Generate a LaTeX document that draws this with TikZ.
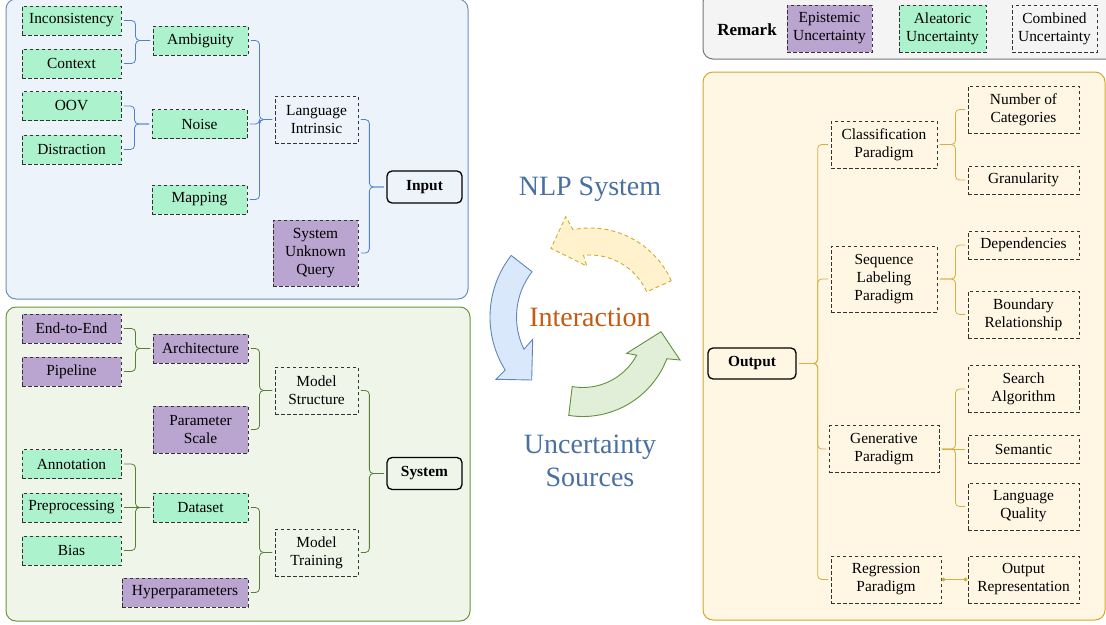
\documentclass[tikz,border=0pt]{standalone}
\usepackage{fontspec}
\setmainfont{Liberation Serif}
\usetikzlibrary{calc,arrows.meta}

\definecolor{epifill}{RGB}{186,164,208}
\definecolor{aleafill}{RGB}{172,242,204}
\definecolor{boxline}{RGB}{51,51,51}
\definecolor{infill}{RGB}{237,243,250}
\definecolor{inborder}{RGB}{108,142,191}
\definecolor{inline}{RGB}{82,128,214}
\definecolor{sysfill}{RGB}{239,245,233}
\definecolor{sysborder}{RGB}{104,150,62}
\definecolor{sysline}{RGB}{88,128,52}
\definecolor{outfill}{RGB}{255,246,228}
\definecolor{outborder}{RGB}{214,166,36}
\definecolor{outline}{RGB}{214,176,66}
\definecolor{remfill}{RGB}{244,244,244}
\definecolor{remborder}{RGB}{120,120,120}
\definecolor{titleblue}{RGB}{72,112,160}
\definecolor{interorange}{RGB}{197,90,17}
\definecolor{arrblue}{RGB}{218,232,252}
\definecolor{arrblueline}{RGB}{98,134,184}
\definecolor{arryellow}{RGB}{255,242,204}
\definecolor{arryellowline}{RGB}{210,170,50}
\definecolor{arrgreen}{RGB}{226,239,216}
\definecolor{arrgreenline}{RGB}{98,145,60}

\begin{document}
\begin{tikzpicture}
	[x=1pt, y=-1pt,
	every node/.style={font=\fontsize{15.4}{18}\selectfont},
	box/.style={draw=boxline, line width=0.9pt, dash pattern=on 3.5pt off 2.5pt, align=center, inner sep=0pt, minimum width=99pt, minimum height=29pt},
	epi/.style={box, fill=epifill},
	alea/.style={box, fill=aleafill},
	comb/.style={box},
	root/.style={draw=black, line width=1.3pt, rounded corners=5pt, minimum width=75pt, minimum height=32pt, font=\fontsize{15.4}{18}\selectfont\bfseries},
	panel/.style={rounded corners=10pt, line width=1pt},
	inedge/.style={draw=inline, line width=0.8pt, rounded corners=4pt, shorten <=2.5pt, shorten >=2.5pt},
	sysedge/.style={inedge, draw=sysline},
	outedge/.style={inedge, draw=outline},
	big/.style={font=\fontsize{28}{33}\selectfont, align=center}]
	\useasboundingbox (0,0) rectangle (1106,624);
	\clip (0,0) rectangle (1106,624);

	\draw[panel, draw=inborder, fill=infill] (6,-1) rectangle (468,299);
	\draw[panel, draw=sysborder, fill=sysfill] (6,307) rectangle (470,621);
	\draw[panel, draw=outborder, fill=outfill] (703,72) rectangle (1105,620);
	\draw[panel, draw=remborder, fill=remfill] (703,-8) rectangle (1120,59);

	\node[alea] (incons) at (71.5,20.5) {Inconsistency};
	\node[alea] (context) at (71.5,63.5) {Context};
	\node[alea, minimum width=95pt] (amb) at (200.5,40.5) {Ambiguity};
	\node[alea] (oov) at (71.5,106) {OOV};
	\node[alea] (distr) at (71.5,149.5) {Distraction};
	\node[alea, minimum width=95pt] (noise) at (199.5,124) {Noise};
	\node[alea, minimum width=95pt] (mapping) at (199.5,199.5) {Mapping};
	\node[comb, minimum width=83pt, minimum height=47pt] (lang) at (316.5,119.5) {Language\\Intrinsic};
	\node[epi, minimum width=85pt, minimum height=66pt] (sysq) at (315.5,253) {System\\Unknown\\Query};
	\node[root] (input) at (424.5,187) {Input};

	\draw[inedge] (amb.west) -- ++(-17,0) |- (incons.east);
	\draw[inedge] (amb.west) -- ++(-17,0) |- (context.east);
	\draw[inedge] (noise.west) -- ++(-17,0) |- (oov.east);
	\draw[inedge] (noise.west) -- ++(-17,0) |- (distr.east);
	\draw[inedge] (lang.west) -- ++(-15,0) |- (amb.east);
	\draw[inedge] (lang.west) -- ++(-15,0) |- (noise.east);
	\draw[inedge] (lang.west) -- ++(-15,0) |- (mapping.east);
	\draw[inedge] (input.west) -- ++(-17,0) |- (lang.east);
	\draw[inedge] (input.west) -- ++(-17,0) |- (sysq.east);

	\node[epi] (e2e) at (71.5,328.5) {End-to-End};
	\node[epi] (pipe) at (71.5,371.5) {Pipeline};
	\node[epi, minimum width=95pt] (arch) at (200.5,348.5) {Architecture};
	\node[epi, minimum width=95pt, minimum height=47pt] (param) at (200.5,429.5) {Parameter\\Scale};
	\node[comb, minimum width=83pt, minimum height=47pt] (mstruct) at (316.5,390.5) {Model\\Structure};
	\node[alea] (annot) at (71.5,464) {Annotation};
	\node[alea] (prep) at (71.5,507.5) {Preprocessing};
	\node[alea] (bias) at (71.5,550.5) {Bias};
	\node[alea, minimum width=95pt] (data) at (200.5,507.5) {Dataset};
	\node[epi, minimum width=126pt] (hyper) at (185,592.5) {Hyperparameters};
	\node[comb, minimum width=83pt, minimum height=47pt] (mtrain) at (316.5,552.5) {Model\\Training};
	\node[root] (system) at (424.5,473.5) {System};

	\draw[sysedge] (arch.west) -- ++(-17,0) |- (e2e.east);
	\draw[sysedge] (arch.west) -- ++(-17,0) |- (pipe.east);
	\draw[sysedge] (mstruct.west) -- ++(-15,0) |- (arch.east);
	\draw[sysedge] (mstruct.west) -- ++(-15,0) |- (param.east);
	\draw[sysedge] (data.west) -- ++(-17,0) |- (annot.east);
	\draw[sysedge] (data.west) -- (prep.east);
	\draw[sysedge] (data.west) -- ++(-17,0) |- (bias.east);
	\draw[sysedge] (mtrain.west) -- ++(-15,0) |- (data.east);
	\draw[sysedge] (mtrain.west) -- ++(-15,0) |- (hyper.east);
	\draw[sysedge] (system.west) -- ++(-17,0) |- (mstruct.east);
	\draw[sysedge] (system.west) -- ++(-17,0) |- (mtrain.east);

	\node[font=\fontsize{17}{20}\selectfont\bfseries] (remark) at (747,30) {Remark};
	\node[epi, minimum width=85pt, minimum height=47pt] (epilg) at (829.5,28.5) {Epistemic\\Uncertainty};
	\node[alea, minimum width=87pt, minimum height=47pt] (alealg) at (942.5,28.5) {Aleatoric\\Uncertainty};
	\node[comb, minimum width=85pt, minimum height=47pt] (comblg) at (1054.5,28.5) {Combined\\Uncertainty};

	\node[root, minimum width=88pt, minimum height=31pt] (output) at (752,363.5) {Output};
	\node[comb, minimum width=106pt, minimum height=47pt] (cls) at (884,144.5) {Classification\\Paradigm};
	\node[comb, minimum width=106pt, minimum height=66pt] (seq) at (884,279) {Sequence\\Labeling\\Paradigm};
	\node[comb, minimum width=110pt, minimum height=47pt] (gen) at (884,449) {Generative\\Paradigm};
	\node[comb, minimum width=110pt, minimum height=47pt] (reg) at (886,579.5) {Regression\\Paradigm};
	\node[comb, minimum width=111pt, minimum height=47pt] (numcat) at (1023.5,109.5) {Number of\\Categories};
	\node[comb, minimum width=111pt, minimum height=28pt] (gran) at (1023.5,180) {Granularity};
	\node[comb, minimum width=111pt, minimum height=28pt] (dep) at (1023.5,245) {Dependencies};
	\node[comb, minimum width=111pt, minimum height=47pt] (bound) at (1023.5,314.5) {Boundary\\Relationship};
	\node[comb, minimum width=111pt, minimum height=47pt] (search) at (1023.5,389) {Search\\Algorithm};
	\node[comb, minimum width=111pt, minimum height=28pt] (sem) at (1023.5,449) {Semantic};
	\node[comb, minimum width=111pt, minimum height=47pt] (langq) at (1023.5,506.5) {Language\\Quality};
	\node[comb, minimum width=111pt, minimum height=47pt] (outrep) at (1023.5,579.5) {Output\\Representation};

	\draw[outedge] (output.east) -- ++(21,0) |- (cls.west);
	\draw[outedge] (output.east) -- ++(21,0) |- (seq.west);
	\draw[outedge] (output.east) -- ++(21,0) |- (gen.west);
	\draw[outedge] (output.east) -- ++(21,0) |- (reg.west);
	\draw[outedge] (cls.east) -- ++(18,0) |- (numcat.west);
	\draw[outedge] (cls.east) -- ++(18,0) |- (gran.west);
	\draw[outedge] (seq.east) -- ++(18,0) |- (dep.west);
	\draw[outedge] (seq.east) -- ++(18,0) |- (bound.west);
	\draw[outedge] (gen.east) -- ++(16,0) |- (search.west);
	\draw[outedge] (gen.east) -- (sem.west);
	\draw[outedge] (gen.east) -- ++(16,0) |- (langq.west);
	\draw[draw=outline, line width=0.8pt, {Circle[length=4pt, fill=outborder]}-{Circle[length=4pt, fill=outborder]}] (reg.east) -- (outrep.west);

	\coordinate (cb) at (590,317);
	\coordinate (cg) at (582.8,326.5);
	\draw[draw=arrblueline, fill=arrblue, line width=0.9pt] (cb) ++(218:100) arc[start angle=218, end angle=148, radius=100]
		-- (496,379.3) -- (531.7,380) -- (532.7,339.3) -- ($(cb)+(154:73.5)$) arc[start angle=154, end angle=218, radius=73.5] -- cycle;
	\draw[draw=arryellowline, fill=arryellow, line width=0.9pt, dash pattern=on 4pt off 3pt] (cb) ++(336:89) arc[start angle=336, end angle=259, radius=89]
		-- (565.7,216.7) -- (551,248.3) -- (586.7,266) -- ($(cb)+(264:62)$) arc[start angle=264, end angle=336, radius=62] -- cycle;
	\draw[draw=arrgreenline, fill=arrgreen, line width=0.9pt] (cg) ++(99:90) arc[start angle=99, end angle=21, radius=90]
		-- (680,360) -- (661,331.7) -- (626.7,353.3) -- ($(cg)+(28:61)$) arc[start angle=28, end angle=100, radius=61] -- cycle;

	\node[big, text=titleblue] (nlp) at (590,189) {NLP System};
	\node[big, text=interorange] (inter) at (590,317) {Interaction};
	\node[big, text=titleblue] (unc) at (590,461) {Uncertainty\\Sources};
\end{tikzpicture}
\end{document}
